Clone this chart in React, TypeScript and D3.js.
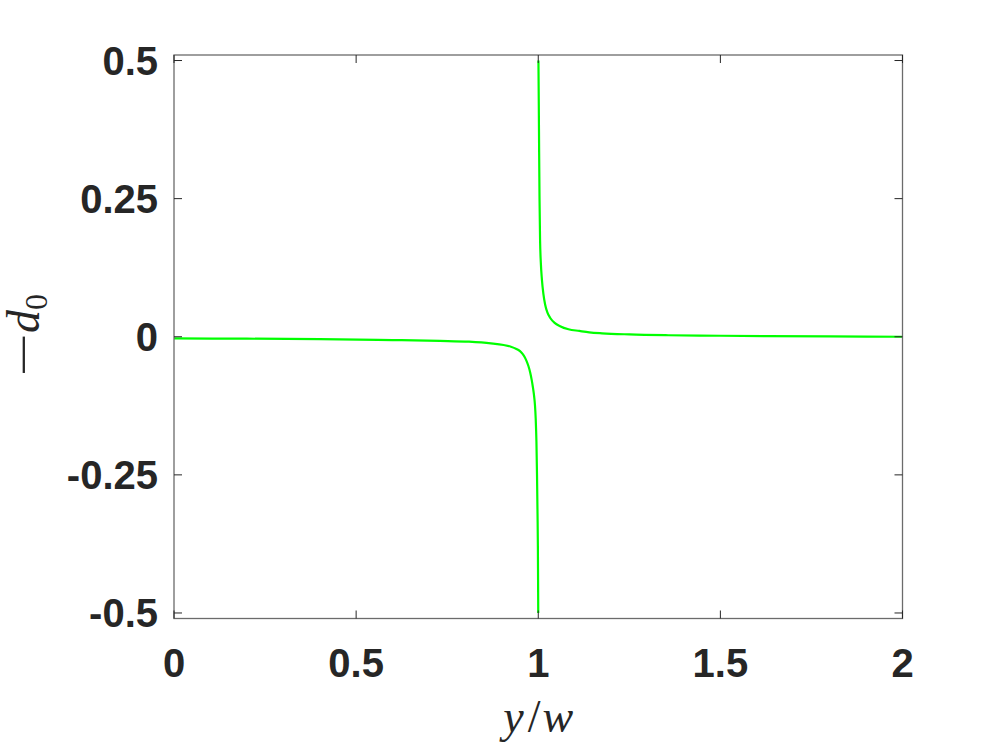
import React from "react";
import * as d3 from "d3";

const xTicks = [0, 0.5, 1, 1.5, 2];
const xTickLabels = ["0", "0.5", "1", "1.5", "2"];
const yTicks = [-0.5, -0.25, 0, 0.25, 0.5];
const yTickLabels = ["-0.5", "-0.25", "0", "0.25", "0.5"];

// left branch (y/w < 1)
const leftX = [0, 0.2, 0.4, 0.6, 0.73, 0.81, 0.87, 0.905, 0.925, 0.94, 0.95, 0.957, 0.963, 0.968, 0.973, 0.978, 0.982, 0.985, 0.988, 0.991, 0.993, 0.995, 0.9966, 0.998, 0.999, 0.9995, 1.0];
const leftY = [-0.003, -0.0035, -0.0042, -0.006, -0.0075, -0.009, -0.012, -0.015, -0.018, -0.022, -0.026, -0.031, -0.037, -0.044, -0.053, -0.065, -0.078, -0.09, -0.104, -0.124, -0.148, -0.19, -0.25, -0.32, -0.38, -0.44, -0.5];

// right branch (y/w > 1)
const rightX = [1.0005, 1.0015, 1.0025, 1.0035, 1.005, 1.007, 1.01, 1.014, 1.019, 1.025, 1.033, 1.045, 1.06, 1.083, 1.113, 1.14, 1.175, 1.25, 1.357, 1.5, 1.63, 1.8, 2.0];
const rightY = [0.5, 0.42, 0.33, 0.25, 0.175, 0.135, 0.104, 0.078, 0.058, 0.044, 0.034, 0.025, 0.019, 0.0135, 0.0105, 0.008, 0.0062, 0.0042, 0.0027, 0.0018, 0.001, 0.0005, 0.0];

const W = 996;
const H = 747;
const L = 174, R = 902.5, T = 55, B = 618.5;

export default function App() {
  const x = d3.scaleLinear().domain([0, 2]).range([L, R]);
  const y = d3.scaleLinear().domain([-0.51, 0.51]).range([B, T]);
  const line = d3
    .line<[number, number]>()
    .x((d) => x(d[0]))
    .y((d) => y(d[1]))
    .curve(d3.curveMonotoneX);
  const leftData: [number, number][] = leftX.map((v, i) => [v, leftY[i]]);
  const rightData: [number, number][] = rightX.map((v, i) => [v, rightY[i]]);
  const tickLen = 8;
  const tickColor = "#262626";
  const boxColor = "#6b6b6b";
  const labelFont = "'Liberation Sans', Arial, Helvetica, sans-serif";
  const mathFont = "'Liberation Serif', 'Times New Roman', serif";

  return (
    <svg
      width={W}
      height={H}
      style={{ position: "absolute", left: 0, top: 0, background: "#fff" }}
    >
      <rect x={0} y={0} width={W} height={H} fill="#fff" />
      <defs>
        <clipPath id="plotclip">
          <rect x={L} y={T} width={R - L} height={B - T} />
        </clipPath>
      </defs>
      {/* curves */}
      <g clipPath="url(#plotclip)">
        <path d={line(leftData) || ""} fill="none" stroke="#00ff00" strokeWidth={2.2} strokeLinejoin="round" />
        <path d={line(rightData) || ""} fill="none" stroke="#00ff00" strokeWidth={2.2} strokeLinejoin="round" />
      </g>
      {/* box */}
      <rect x={L} y={T} width={R - L} height={B - T} fill="none" stroke={boxColor} strokeWidth={1.3} />
      {/* ticks */}
      {xTicks.map((t) => (
        <g key={"xt" + t}>
          <line x1={x(t)} x2={x(t)} y1={B} y2={B - tickLen} stroke={tickColor} strokeWidth={1} />
          <line x1={x(t)} x2={x(t)} y1={T} y2={T + tickLen} stroke={tickColor} strokeWidth={1} />
        </g>
      ))}
      {yTicks.map((t) => (
        <g key={"yt" + t}>
          <line x1={L} x2={L + tickLen} y1={y(t)} y2={y(t)} stroke={tickColor} strokeWidth={1} />
          <line x1={R} x2={R - tickLen} y1={y(t)} y2={y(t)} stroke={tickColor} strokeWidth={1} />
        </g>
      ))}
      {/* tick labels */}
      {xTicks.map((t, i) => (
        <text
          key={"xl" + t}
          x={x(t)}
          y={677}
          textAnchor="middle"
          fontFamily={labelFont}
          fontWeight="bold"
          fontSize={40}
          fill={tickColor}
        >
          {xTickLabels[i]}
        </text>
      ))}
      {yTicks.map((t, i) => (
        <text
          key={"yl" + t}
          x={158}
          y={y(t)}
          dy="0.36em"
          textAnchor="end"
          fontFamily={labelFont}
          fontWeight="bold"
          fontSize={40}
          fill={tickColor}
        >
          {yTickLabels[i]}
        </text>
      ))}
      {/* x axis label */}
      <text
        x={(L + R) / 2}
        y={732}
        textAnchor="middle"
        fontFamily={mathFont}
        fontSize={46}
        fill={tickColor}
      >
        <tspan fontStyle="italic">y</tspan>
        <tspan dx={4}>/</tspan>
        <tspan fontStyle="italic" dx={2}>w</tspan>
      </text>
      {/* y axis label */}
      <g transform="translate(39, 373) rotate(-90)">
        <text
          transform="scale(1.7, 1)"
          x={-2}
          y={0}
          fontFamily={mathFont}
          fontSize={46}
          fill={tickColor}
        >
          −
        </text>
        <text x={40} y={0} fontFamily={mathFont} fontSize={46} fill={tickColor}>
          <tspan fontStyle="italic">d</tspan>
          <tspan fontSize={32} dy={8}>0</tspan>
        </text>
      </g>
    </svg>
  );
}
